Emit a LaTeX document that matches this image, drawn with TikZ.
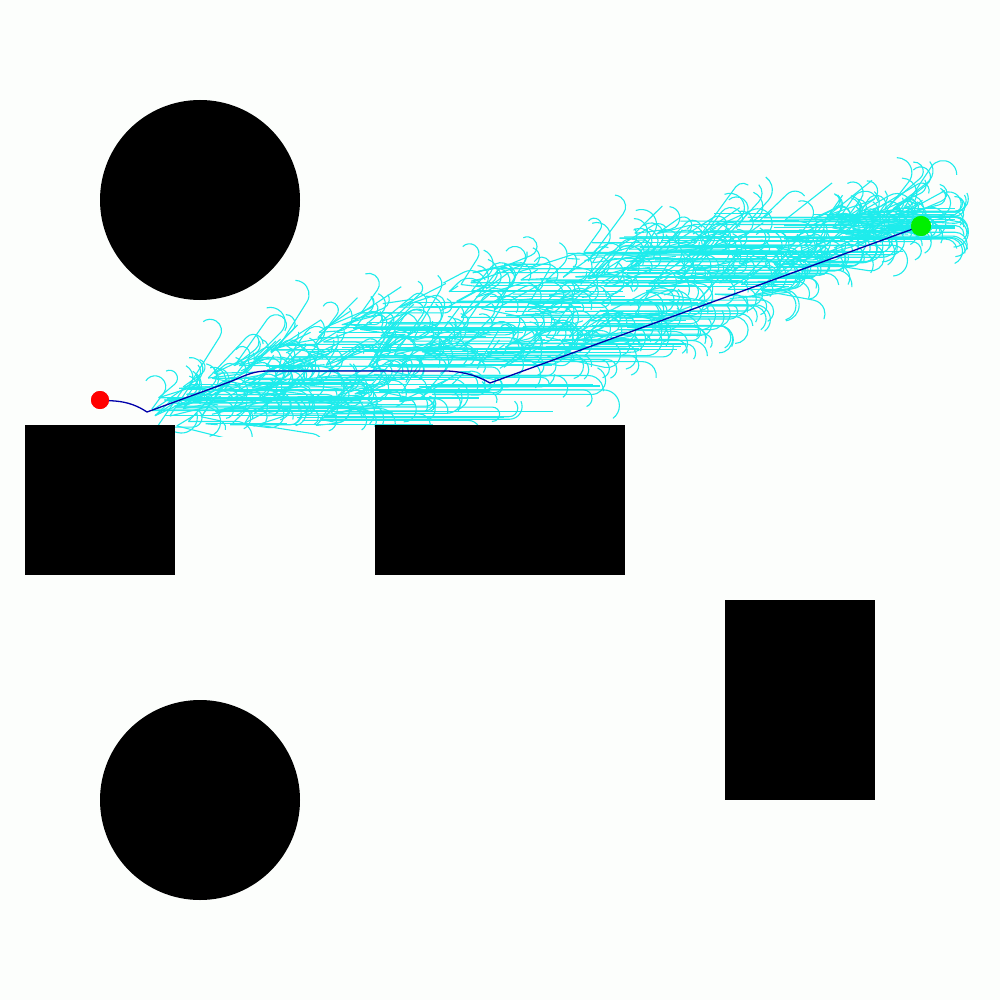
\documentclass[tikz,border=0pt]{standalone}
\definecolor{bgcol}{RGB}{252,254,252}
\definecolor{treecyan}{RGB}{30,236,236}
\definecolor{pathblue}{RGB}{0,0,170}
\definecolor{startred}{RGB}{255,0,0}
\definecolor{goalgreen}{RGB}{0,240,0}
\tikzset{
  obstacle/.style={fill=black, draw=none},
  treeedge/.style={draw=treecyan, line width=1.1pt},
  pathline/.style={draw=pathblue, line width=1.3pt},
  startdot/.style={circle, fill=startred, minimum size=18pt, inner sep=0pt},
  goaldot/.style={circle, fill=goalgreen, minimum size=20pt, inner sep=0pt}
}
\begin{document}
\begin{tikzpicture}[x=1pt,y=-1pt]
\fill[bgcol] (0,0) rectangle (1000,1000);
\useasboundingbox (0,0) rectangle (1000,1000);
% search tree
\begin{scope}[treeedge]
\clip (0,0) rectangle (1000,436);
\pgfmathsetseed{11}
\foreach \i in {1,...,480}{
  \pgfmathsetmacro{\xx}{150+755*rnd}
  \pgfmathsetmacro{\tp}{max(400-0.42*(\xx-150),285-0.25*(\xx-420),212-0.02*(\xx-700))}
  \pgfmathsetmacro{\bt}{min(428,392-0.57*(\xx-600),270-0.3*(\xx-850))}
  \pgfmathsetmacro{\yy}{\tp+(\bt-\tp)*rnd}
  \pgfmathsetmacro{\xm}{min(955,max(960-3.5*(\yy-235),800-1.78*(\yy-280)))}
  \pgfmathtruncatemacro{\k}{1+3*rnd}
  \foreach \j in {1,...,\k}{
    \pgfmathsetmacro{\hz}{rnd<0.42 ? 1 : 0}
    \pgfmathsetmacro{\th}{\hz>0.5 ? 0 : -(75*rnd-15)}
    \pgfmathsetmacro{\L}{\hz>0.5 ? max(5,min(25+200*rnd,\xm-\xx)) : 10+50*rnd}
    \pgfmathsetmacro{\s}{rand>0 ? 1 : -1}
    \pgfmathsetmacro{\sw}{rnd<0.3 ? 0 : 80+110*rnd}
    \pgfmathsetmacro{\r}{7+9*rnd}
    \pgfmathsetmacro{\sa}{\th-90*\s}
    \pgfmathsetmacro{\ea}{\sa+\s*\sw}
    \draw (\xx,\yy) -- ++(\th:\L) arc[start angle=\sa, end angle=\ea, radius=\r];
  }
}
\end{scope}
% obstacles
\fill[obstacle] (200,200) circle[radius=100];
\fill[obstacle] (200,800) circle[radius=100];
\fill[obstacle] (25,425) rectangle (175,575);
\fill[obstacle] (375,425) rectangle (625,575);
\fill[obstacle] (725,600) rectangle (875,800);
% start and goal
\node[startdot] (s) at (100,400) {};
\node[goaldot] (g) at (921,226) {};
\coordinate (c1) at (147,412);
\coordinate (c2) at (490,383);
\draw[pathline] (s.center) -- (115,401) .. controls (128,402) and (138,406) .. (c1)
  -- (232,381) .. controls (248,374) and (255,371) .. (268,371)
  -- (448,371) .. controls (465,372) and (478,376) .. (c2) -- (g.center);
\node[startdot] at (s) {};
\node[goaldot] at (g) {};
\end{tikzpicture}
\end{document}
